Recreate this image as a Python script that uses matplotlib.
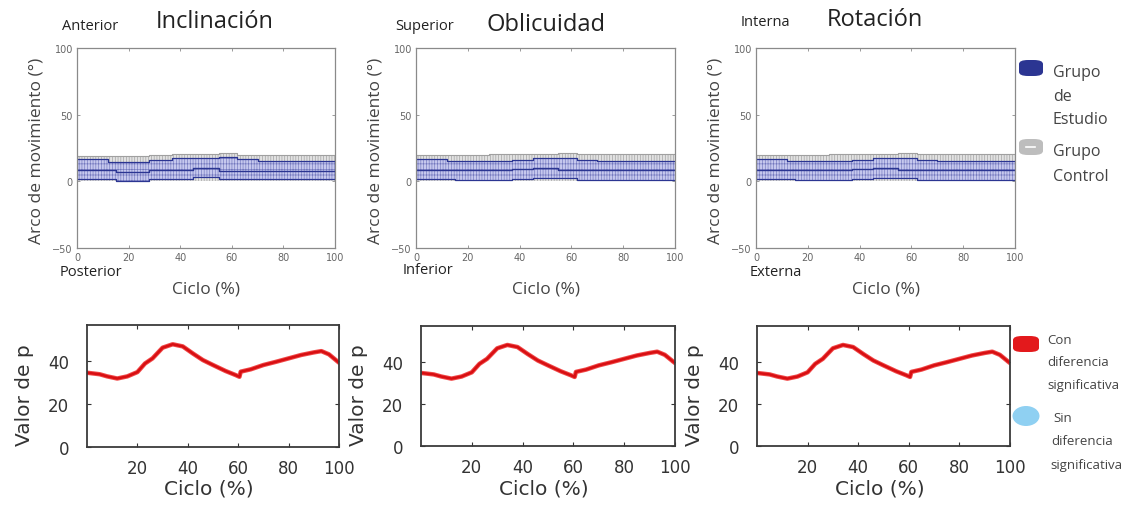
import matplotlib
matplotlib.use("Agg")
import matplotlib.pyplot as plt
from matplotlib.patches import FancyBboxPatch, Ellipse

W, H = 1143, 506

# ---- range of motion bands (step segments over the cycle) ----
SEG_EDGES = [0, 12, 15, 28, 37, 45, 55, 62, 70, 100]

PANELS = ["Inclinación", "Oblicuidad", "Rotación"]
TOP_LABELS = ["Anterior", "Superior", "Interna"]
BOTTOM_LABELS = ["Posterior", "Inferior", "Externa"]

CTRL_UPPER = [
    [19.0, 19.0, 19.0, 20.0, 20.5, 20.5, 21.0, 20.0, 20.0],
    [20.0, 20.0, 20.0, 20.3, 20.3, 20.8, 21.2, 20.3, 20.3],
    [20.0, 20.0, 20.0, 20.3, 20.5, 20.8, 21.0, 20.3, 20.3],
]
STUDY_UPPER = [
    [16.5, 14.5, 14.5, 16.0, 17.5, 17.5, 18.0, 16.5, 15.5],
    [16.6, 15.3, 15.3, 15.3, 16.3, 17.6, 17.6, 16.3, 15.6],
    [16.6, 15.6, 15.3, 15.3, 16.3, 17.6, 17.6, 16.3, 15.6],
]
STUDY_MEAN = [
    [8.5, 8.5, 7.0, 8.5, 8.5, 10.0, 8.0, 8.0, 8.0],
    [8.8, 8.8, 8.3, 8.3, 9.0, 10.0, 8.8, 8.5, 8.5],
    [8.8, 8.8, 8.3, 8.3, 9.0, 10.0, 8.8, 8.5, 8.5],
]
STUDY_LOWER = [
    [2.0, 2.0, 0.3, 2.0, 2.0, 3.0, 2.0, 1.5, 1.5],
    [1.5, 1.5, 0.8, 0.8, 1.5, 2.8, 2.8, 1.3, 1.3],
    [1.5, 1.5, 0.8, 0.8, 1.5, 2.8, 2.8, 1.3, 1.3],
]

# ---- p-value along the cycle ----
P_CYCLE = [0, 5, 8, 12, 16, 20, 23, 26, 30, 34, 38, 42, 46, 50, 55, 59,
           60.5, 61, 65, 70, 75, 80, 85, 90, 93, 96, 100]
P_VALUE = [34.7, 34.0, 33.0, 32.0, 33.0, 35.0, 39.0, 41.4, 46.4, 48.0, 47.0,
           43.7, 40.6, 38.3, 35.5, 33.6, 32.8, 35.2, 36.3, 38.3, 39.8, 41.4,
           43.0, 44.2, 44.8, 43.3, 39.4]

TOP_BOXES = [(77, 49, 258, 200), (416, 49, 259, 200), (756, 49, 259, 200)]
BOT_BOXES = [(87, 326, 252, 122), (421, 327, 254, 120), (757, 327, 253, 120)]


def px_rect(x, y, w, h):
    return [x / W, 1 - (y + h) / H, w / W, h / H]


def fx(x):
    return x / W


def fy(y):
    return 1 - y / H


def seg(vals):
    # repeat last segment value so step='post' reaches the right edge
    return list(vals) + [vals[-1]]


plt.rcParams["hatch.linewidth"] = 0.45
fig = plt.figure(figsize=(W / 100, H / 100), dpi=100)
fig.patch.set_facecolor("white")

SANS = ["Open Sans", "DejaVu Sans"]
BLUE = "#2b3592"

for i, name in enumerate(PANELS):
    # ---------- range of motion panel ----------
    ax = fig.add_axes(px_rect(*TOP_BOXES[i]))
    ax.fill_between(SEG_EDGES, 0, seg(CTRL_UPPER[i]), step="post",
                    facecolor="#e2e2e2", edgecolor="#9c9c9c", hatch="||||||",
                    linewidth=0)
    ax.step(SEG_EDGES, seg(CTRL_UPPER[i]), where="post", color="#a0a0a0", lw=0.8)
    ax.fill_between(SEG_EDGES, seg(STUDY_LOWER[i]), seg(STUDY_UPPER[i]),
                    step="post", facecolor="#c6c8ee", edgecolor="#7277bd",
                    hatch="||||||---", linewidth=0)
    for vals, lw in ((STUDY_UPPER[i], 0.9), (STUDY_MEAN[i], 1.0), (STUDY_LOWER[i], 0.9)):
        ax.step(SEG_EDGES, seg(vals), where="post", color=BLUE, lw=lw)
    ax.set_xlim(0, 100)
    ax.set_ylim(-50, 100)
    ax.set_xticks([0, 20, 40, 60, 80, 100])
    ax.set_yticks([-50, 0, 50, 100])
    ax.tick_params(direction="in", length=2.5, width=0.6, colors="#8a8a8a",
                   labelcolor="#666666", labelsize=7, top=True, right=True, pad=3)
    for s in ax.spines.values():
        s.set_color("#8a8a8a")
        s.set_linewidth(0.9)

    x0, y0, w, h = TOP_BOXES[i]
    cx = x0 + w / 2
    fig.text(fx(x0 - 40), fy(y0 + h / 2 + 2), "Arco de movimiento (°)", rotation=90,
             ha="center", va="center", fontsize=12.5, color="#444444", family=SANS)
    fig.text(fx(cx), fy(290), "Ciclo (%)", ha="center", va="center",
             fontsize=12.5, color="#444444", family=SANS)
    fig.text(fx(cx + [9, 0, -11][i]), fy([22, 25, 20][i]), name, ha="center",
             va="center", fontsize=17, color="#222222", family=SANS)
    fig.text(fx(x0 + [13, 9, 9][i]), fy([27, 27, 22][i]), TOP_LABELS[i],
             ha="center", va="center", fontsize=10.5, color="#222222", family=SANS)
    fig.text(fx(x0 + [14, 12, 20][i]), fy([272, 270, 273][i]), BOTTOM_LABELS[i],
             ha="center", va="center", fontsize=10.5, color="#222222", family=SANS)

    # ---------- p-value panel ----------
    bx = fig.add_axes(px_rect(*BOT_BOXES[i]))
    bx.plot(P_CYCLE, P_VALUE, color="#f04848", lw=3.2, solid_capstyle="round")
    bx.plot(P_CYCLE, P_VALUE, color="#d80f12", lw=1.8, solid_capstyle="round")
    bx.set_xlim(0, 100)
    bx.set_ylim(0, 57)
    bx.set_xticks([20, 40, 60, 80, 100])
    bx.set_yticks([0, 20, 40])
    bx.tick_params(direction="in", length=3, width=0.8, colors="#333333",
                   labelcolor="#333333", labelsize=12, top=True, right=True)
    bx.tick_params(axis="y", pad=13)
    bx.tick_params(axis="x", pad=9)
    for s in bx.spines.values():
        s.set_color("#3a3a3a")
        s.set_linewidth(1.3)
    bx0, by0, bw, bh = BOT_BOXES[i]
    fig.text(fx(bx0 - 62), fy(395), "Valor de p", rotation=90, ha="center",
             va="center", fontsize=14.5, color="#333333")
    fig.text(fx(bx0 + bw / 2 - 4), fy(489), "Ciclo (%)", ha="center", va="center",
             fontsize=14.5, color="#333333")

# ---------- legends ----------
def swatch(x, y, w, h, color):
    fig.patches.append(FancyBboxPatch((fx(x), fy(y + h)), w / W, h / H,
                                      boxstyle="round,pad=0,rounding_size=0.008",
                                      transform=fig.transFigure, facecolor=color,
                                      edgecolor="none"))


swatch(1019, 61, 24, 16, BLUE)
swatch(1019, 140, 24, 16, "#bdbdbd")
fig.patches.append(plt.Line2D([fx(1026), fx(1035)], [fy(148), fy(148)],
                              transform=fig.transFigure, color="white", lw=1.2))
for txt, y in (("Grupo", 73), ("de", 97), ("Estudio", 120), ("Grupo", 152), ("Control", 177)):
    fig.text(fx(1053), fy(y), txt, ha="left", va="center", fontsize=11.5,
             color="#444444", family=SANS)

swatch(1013, 337, 26, 16, "#e3191c")
fig.patches.append(Ellipse((fx(1026), fy(417)), 27 / W, 20 / H,
                           transform=fig.transFigure, facecolor="#8fd0f2",
                           edgecolor="none"))
for txt, x, y in (("Con", 1047, 341), ("diferencia", 1047, 363), ("significativa", 1047, 386),
                  ("Sin", 1053, 419), ("diferencia", 1051, 442), ("significativa", 1050, 466)):
    fig.text(fx(x), fy(y), txt, ha="left", va="center", fontsize=9.5,
             color="#444444", family=SANS)

fig.savefig("out.png", dpi=100)
